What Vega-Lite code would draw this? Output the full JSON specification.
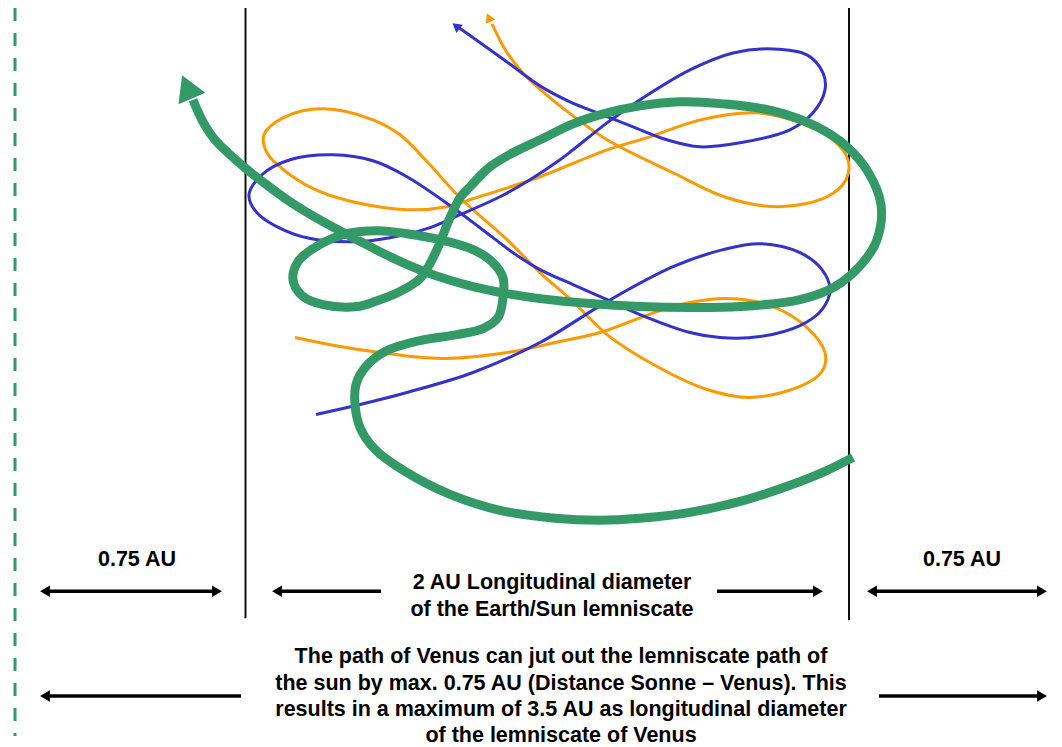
{
  "$schema": "https://vega.github.io/schema/vega-lite/v6.json",
  "width": 1062,
  "height": 747,
  "autosize": {"type": "fit", "contains": "padding"},
  "padding": 0,
  "background": "white",
  "config": {"view": {"stroke": null}},
  "datasets": {
    "orange": [
      {"ord": 1, "x": 295, "y": 338}, {"ord": 2, "x": 340, "y": 347}, {"ord": 3, "x": 380, "y": 353}, {"ord": 4, "x": 440, "y": 359},
      {"ord": 5, "x": 507, "y": 353}, {"ord": 6, "x": 560, "y": 342}, {"ord": 7, "x": 600, "y": 333}, {"ord": 8, "x": 657, "y": 312},
      {"ord": 9, "x": 690, "y": 303}, {"ord": 10, "x": 727, "y": 299}, {"ord": 11, "x": 773, "y": 307}, {"ord": 12, "x": 807, "y": 328},
      {"ord": 13, "x": 825, "y": 353}, {"ord": 14, "x": 822, "y": 372}, {"ord": 15, "x": 800, "y": 387}, {"ord": 16, "x": 750, "y": 398},
      {"ord": 17, "x": 707, "y": 390}, {"ord": 18, "x": 657, "y": 367}, {"ord": 19, "x": 607, "y": 335}, {"ord": 20, "x": 573, "y": 302},
      {"ord": 21, "x": 540, "y": 273}, {"ord": 22, "x": 507, "y": 240}, {"ord": 23, "x": 460, "y": 198}, {"ord": 24, "x": 430, "y": 165},
      {"ord": 25, "x": 400, "y": 135}, {"ord": 26, "x": 373, "y": 120}, {"ord": 27, "x": 323, "y": 109}, {"ord": 28, "x": 283, "y": 118},
      {"ord": 29, "x": 264, "y": 135}, {"ord": 30, "x": 267, "y": 153}, {"ord": 31, "x": 290, "y": 175}, {"ord": 32, "x": 320, "y": 192},
      {"ord": 33, "x": 357, "y": 203}, {"ord": 34, "x": 407, "y": 210}, {"ord": 35, "x": 447, "y": 207}, {"ord": 36, "x": 473, "y": 199},
      {"ord": 37, "x": 540, "y": 177}, {"ord": 38, "x": 607, "y": 150}, {"ord": 39, "x": 650, "y": 137}, {"ord": 40, "x": 690, "y": 123},
      {"ord": 41, "x": 727, "y": 115}, {"ord": 42, "x": 757, "y": 113}, {"ord": 43, "x": 800, "y": 123}, {"ord": 44, "x": 833, "y": 140},
      {"ord": 45, "x": 848, "y": 160}, {"ord": 46, "x": 846, "y": 180}, {"ord": 47, "x": 827, "y": 197}, {"ord": 48, "x": 780, "y": 207},
      {"ord": 49, "x": 727, "y": 198}, {"ord": 50, "x": 673, "y": 173}, {"ord": 51, "x": 607, "y": 140}, {"ord": 52, "x": 573, "y": 116},
      {"ord": 53, "x": 543, "y": 92}, {"ord": 54, "x": 522, "y": 72}, {"ord": 55, "x": 506, "y": 51}, {"ord": 56, "x": 492, "y": 24}
    ],
    "blue": [
      {"ord": 1, "x": 316, "y": 415}, {"ord": 2, "x": 360, "y": 405}, {"ord": 3, "x": 407, "y": 393}, {"ord": 4, "x": 473, "y": 373},
      {"ord": 5, "x": 540, "y": 343}, {"ord": 6, "x": 607, "y": 302}, {"ord": 7, "x": 673, "y": 267}, {"ord": 8, "x": 723, "y": 250},
      {"ord": 9, "x": 760, "y": 244}, {"ord": 10, "x": 800, "y": 253}, {"ord": 11, "x": 822, "y": 270}, {"ord": 12, "x": 830, "y": 290},
      {"ord": 13, "x": 822, "y": 310}, {"ord": 14, "x": 800, "y": 326}, {"ord": 15, "x": 760, "y": 337}, {"ord": 16, "x": 720, "y": 338},
      {"ord": 17, "x": 690, "y": 333}, {"ord": 18, "x": 640, "y": 315}, {"ord": 19, "x": 607, "y": 300}, {"ord": 20, "x": 573, "y": 285},
      {"ord": 21, "x": 540, "y": 270}, {"ord": 22, "x": 513, "y": 253}, {"ord": 23, "x": 480, "y": 228}, {"ord": 24, "x": 453, "y": 208},
      {"ord": 25, "x": 407, "y": 177}, {"ord": 26, "x": 373, "y": 161}, {"ord": 27, "x": 333, "y": 155}, {"ord": 28, "x": 290, "y": 160},
      {"ord": 29, "x": 262, "y": 175}, {"ord": 30, "x": 249, "y": 195}, {"ord": 31, "x": 257, "y": 213}, {"ord": 32, "x": 290, "y": 233},
      {"ord": 33, "x": 317, "y": 240}, {"ord": 34, "x": 357, "y": 242}, {"ord": 35, "x": 390, "y": 238}, {"ord": 36, "x": 427, "y": 229},
      {"ord": 37, "x": 460, "y": 215}, {"ord": 38, "x": 500, "y": 197}, {"ord": 39, "x": 530, "y": 180}, {"ord": 40, "x": 560, "y": 160},
      {"ord": 41, "x": 573, "y": 150}, {"ord": 42, "x": 607, "y": 123}, {"ord": 43, "x": 640, "y": 100}, {"ord": 44, "x": 690, "y": 70},
      {"ord": 45, "x": 733, "y": 53}, {"ord": 46, "x": 773, "y": 49}, {"ord": 47, "x": 807, "y": 55}, {"ord": 48, "x": 823, "y": 73},
      {"ord": 49, "x": 825, "y": 90}, {"ord": 50, "x": 813, "y": 113}, {"ord": 51, "x": 790, "y": 130}, {"ord": 52, "x": 740, "y": 143},
      {"ord": 53, "x": 700, "y": 147}, {"ord": 54, "x": 667, "y": 140}, {"ord": 55, "x": 633, "y": 127}, {"ord": 56, "x": 600, "y": 114},
      {"ord": 57, "x": 570, "y": 102}, {"ord": 58, "x": 540, "y": 86}, {"ord": 59, "x": 507, "y": 62}, {"ord": 60, "x": 458, "y": 27}
    ],
    "green": [
      {"ord": 1, "x": 853, "y": 458}, {"ord": 2, "x": 825, "y": 472}, {"ord": 3, "x": 790, "y": 486}, {"ord": 4, "x": 744, "y": 501},
      {"ord": 5, "x": 690, "y": 513}, {"ord": 6, "x": 640, "y": 519}, {"ord": 7, "x": 600, "y": 521}, {"ord": 8, "x": 555, "y": 519},
      {"ord": 9, "x": 500, "y": 511}, {"ord": 10, "x": 450, "y": 495}, {"ord": 11, "x": 405, "y": 472}, {"ord": 12, "x": 375, "y": 450},
      {"ord": 13, "x": 360, "y": 428}, {"ord": 14, "x": 355, "y": 405}, {"ord": 15, "x": 356, "y": 385}, {"ord": 16, "x": 365, "y": 368},
      {"ord": 17, "x": 385, "y": 352}, {"ord": 18, "x": 420, "y": 341}, {"ord": 19, "x": 457, "y": 335}, {"ord": 20, "x": 483, "y": 329},
      {"ord": 21, "x": 498, "y": 318}, {"ord": 22, "x": 503, "y": 298}, {"ord": 23, "x": 503, "y": 278}, {"ord": 24, "x": 492, "y": 262},
      {"ord": 25, "x": 473, "y": 250}, {"ord": 26, "x": 440, "y": 240}, {"ord": 27, "x": 407, "y": 234}, {"ord": 28, "x": 378, "y": 231},
      {"ord": 29, "x": 347, "y": 234}, {"ord": 30, "x": 318, "y": 246}, {"ord": 31, "x": 298, "y": 262}, {"ord": 32, "x": 293, "y": 280},
      {"ord": 33, "x": 302, "y": 296}, {"ord": 34, "x": 323, "y": 305}, {"ord": 35, "x": 357, "y": 307}, {"ord": 36, "x": 375, "y": 302},
      {"ord": 37, "x": 400, "y": 292}, {"ord": 38, "x": 420, "y": 279}, {"ord": 39, "x": 430, "y": 264}, {"ord": 40, "x": 440, "y": 243},
      {"ord": 41, "x": 450, "y": 218}, {"ord": 42, "x": 460, "y": 198}, {"ord": 43, "x": 470, "y": 187}, {"ord": 44, "x": 490, "y": 167},
      {"ord": 45, "x": 513, "y": 153}, {"ord": 46, "x": 540, "y": 140}, {"ord": 47, "x": 573, "y": 124}, {"ord": 48, "x": 607, "y": 113},
      {"ord": 49, "x": 640, "y": 106}, {"ord": 50, "x": 680, "y": 102}, {"ord": 51, "x": 723, "y": 104}, {"ord": 52, "x": 773, "y": 111},
      {"ord": 53, "x": 817, "y": 127}, {"ord": 54, "x": 847, "y": 147}, {"ord": 55, "x": 868, "y": 172}, {"ord": 56, "x": 881, "y": 205},
      {"ord": 57, "x": 877, "y": 240}, {"ord": 58, "x": 862, "y": 264}, {"ord": 59, "x": 835, "y": 287}, {"ord": 60, "x": 800, "y": 300},
      {"ord": 61, "x": 740, "y": 307}, {"ord": 62, "x": 690, "y": 308}, {"ord": 63, "x": 640, "y": 307}, {"ord": 64, "x": 590, "y": 304},
      {"ord": 65, "x": 540, "y": 299}, {"ord": 66, "x": 507, "y": 294}, {"ord": 67, "x": 473, "y": 287}, {"ord": 68, "x": 427, "y": 273},
      {"ord": 69, "x": 390, "y": 257}, {"ord": 70, "x": 357, "y": 240}, {"ord": 71, "x": 323, "y": 222}, {"ord": 72, "x": 290, "y": 202},
      {"ord": 73, "x": 260, "y": 180}, {"ord": 74, "x": 245, "y": 168}, {"ord": 75, "x": 215, "y": 140}, {"ord": 76, "x": 203, "y": 122},
      {"ord": 77, "x": 193, "y": 100}
    ],
    "arrows": [
      {"x": 45, "x2": 217, "y": 592},
      {"x": 277, "x2": 381, "y": 592},
      {"x": 717, "x2": 818, "y": 592},
      {"x": 872, "x2": 1042, "y": 592},
      {"x": 45, "x2": 241, "y": 697},
      {"x": 879, "x2": 1042, "y": 697}
    ],
    "headsLeft": [
      {"x": 45, "y": 592}, {"x": 277, "y": 592}, {"x": 872, "y": 592}, {"x": 45, "y": 697}
    ],
    "headsRight": [
      {"x": 217, "y": 592}, {"x": 818, "y": 592}, {"x": 1042, "y": 592}, {"x": 1042, "y": 697}
    ],
    "texts": [
      {"x": 137, "y": 561, "label": "0.75 AU"},
      {"x": 962, "y": 561, "label": "0.75 AU"},
      {"x": 552, "y": 584, "label": "2 AU Longitudinal diameter"},
      {"x": 552, "y": 611, "label": "of the Earth/Sun lemniscate"},
      {"x": 561, "y": 658, "label": "The path of Venus can jut out the lemniscate path of"},
      {"x": 561, "y": 685, "label": "the sun by max. 0.75 AU (Distance Sonne – Venus). This"},
      {"x": 561, "y": 711, "label": "results in a maximum of 3.5 AU as longitudinal diameter"},
      {"x": 561, "y": 737, "label": "of the lemniscate of Venus"}
    ]
  },
  "layer": [
    {
      "data": {"values": [{"x": 15, "y": 8, "y2": 737}]},
      "mark": {"type": "rule", "color": "#339966", "strokeWidth": 3, "strokeDash": [13, 12]},
      "encoding": {
        "x": {"field": "x", "type": "quantitative", "axis": null, "scale": {"domain": [0, 1062], "nice": false, "zero": false}},
        "y": {"field": "y", "type": "quantitative", "axis": null, "scale": {"domain": [0, 747], "reverse": true, "nice": false, "zero": false}},
        "y2": {"field": "y2"}
      }
    },
    {
      "data": {"values": [{"x": 245.5, "y": 8, "y2": 619}, {"x": 849, "y": 8, "y2": 621}]},
      "mark": {"type": "rule", "color": "#111111", "strokeWidth": 2},
      "encoding": {
        "x": {"field": "x", "type": "quantitative", "axis": null, "scale": {"domain": [0, 1062], "nice": false, "zero": false}},
        "y": {"field": "y", "type": "quantitative", "axis": null, "scale": {"domain": [0, 747], "reverse": true, "nice": false, "zero": false}},
        "y2": {"field": "y2"}
      }
    },
    {
      "data": {"name": "orange"},
      "mark": {"type": "line", "color": "#ff9900", "strokeWidth": 3, "interpolate": "catmull-rom", "strokeJoin": "round"},
      "encoding": {
        "x": {"field": "x", "type": "quantitative", "axis": null, "scale": {"domain": [0, 1062], "nice": false, "zero": false}},
        "y": {"field": "y", "type": "quantitative", "axis": null, "scale": {"domain": [0, 747], "reverse": true, "nice": false, "zero": false}},
        "order": {"field": "ord", "type": "quantitative"}
      }
    },
    {
      "data": {"values": [{"x": 488.7, "y": 17.5}]},
      "mark": {"type": "point", "shape": "triangle-up", "filled": true, "color": "#ff9900", "opacity": 1, "size": 110, "angle": 337},
      "encoding": {
        "x": {"field": "x", "type": "quantitative", "axis": null, "scale": {"domain": [0, 1062], "nice": false, "zero": false}},
        "y": {"field": "y", "type": "quantitative", "axis": null, "scale": {"domain": [0, 747], "reverse": true, "nice": false, "zero": false}}
      }
    },
    {
      "data": {"name": "blue"},
      "mark": {"type": "line", "color": "#3333cc", "strokeWidth": 3, "interpolate": "catmull-rom", "strokeJoin": "round"},
      "encoding": {
        "x": {"field": "x", "type": "quantitative", "axis": null, "scale": {"domain": [0, 1062], "nice": false, "zero": false}},
        "y": {"field": "y", "type": "quantitative", "axis": null, "scale": {"domain": [0, 747], "reverse": true, "nice": false, "zero": false}},
        "order": {"field": "ord", "type": "quantitative"}
      }
    },
    {
      "data": {"values": [{"x": 456, "y": 26}]},
      "mark": {"type": "point", "shape": "triangle-up", "filled": true, "color": "#3333cc", "opacity": 1, "size": 110, "angle": 308},
      "encoding": {
        "x": {"field": "x", "type": "quantitative", "axis": null, "scale": {"domain": [0, 1062], "nice": false, "zero": false}},
        "y": {"field": "y", "type": "quantitative", "axis": null, "scale": {"domain": [0, 747], "reverse": true, "nice": false, "zero": false}}
      }
    },
    {
      "data": {"name": "green"},
      "mark": {"type": "line", "color": "#339966", "strokeWidth": 9, "interpolate": "catmull-rom", "strokeJoin": "round", "strokeCap": "butt"},
      "encoding": {
        "x": {"field": "x", "type": "quantitative", "axis": null, "scale": {"domain": [0, 1062], "nice": false, "zero": false}},
        "y": {"field": "y", "type": "quantitative", "axis": null, "scale": {"domain": [0, 747], "reverse": true, "nice": false, "zero": false}},
        "order": {"field": "ord", "type": "quantitative"}
      }
    },
    {
      "data": {"values": [{"x": 187, "y": 87}]},
      "mark": {"type": "point", "shape": "triangle-up", "filled": true, "color": "#339966", "opacity": 1, "size": 850, "angle": 337},
      "encoding": {
        "x": {"field": "x", "type": "quantitative", "axis": null, "scale": {"domain": [0, 1062], "nice": false, "zero": false}},
        "y": {"field": "y", "type": "quantitative", "axis": null, "scale": {"domain": [0, 747], "reverse": true, "nice": false, "zero": false}}
      }
    },
    {
      "data": {"name": "arrows"},
      "mark": {"type": "rule", "color": "black", "strokeWidth": 3.5},
      "encoding": {
        "x": {"field": "x", "type": "quantitative", "axis": null, "scale": {"domain": [0, 1062], "nice": false, "zero": false}},
        "x2": {"field": "x2"},
        "y": {"field": "y", "type": "quantitative", "axis": null, "scale": {"domain": [0, 747], "reverse": true, "nice": false, "zero": false}}
      }
    },
    {
      "data": {"name": "headsLeft"},
      "mark": {"type": "point", "shape": "triangle-left", "filled": true, "color": "black", "opacity": 1, "size": 130},
      "encoding": {
        "x": {"field": "x", "type": "quantitative", "axis": null, "scale": {"domain": [0, 1062], "nice": false, "zero": false}},
        "y": {"field": "y", "type": "quantitative", "axis": null, "scale": {"domain": [0, 747], "reverse": true, "nice": false, "zero": false}}
      }
    },
    {
      "data": {"name": "headsRight"},
      "mark": {"type": "point", "shape": "triangle-right", "filled": true, "color": "black", "opacity": 1, "size": 130},
      "encoding": {
        "x": {"field": "x", "type": "quantitative", "axis": null, "scale": {"domain": [0, 1062], "nice": false, "zero": false}},
        "y": {"field": "y", "type": "quantitative", "axis": null, "scale": {"domain": [0, 747], "reverse": true, "nice": false, "zero": false}}
      }
    },
    {
      "data": {"name": "texts"},
      "mark": {"type": "text", "font": "Liberation Sans", "fontWeight": "bold", "fontSize": 21.5, "color": "black", "align": "center", "baseline": "middle"},
      "encoding": {
        "x": {"field": "x", "type": "quantitative", "axis": null, "scale": {"domain": [0, 1062], "nice": false, "zero": false}},
        "y": {"field": "y", "type": "quantitative", "axis": null, "scale": {"domain": [0, 747], "reverse": true, "nice": false, "zero": false}},
        "text": {"field": "label", "type": "nominal"}
      }
    }
  ]
}
